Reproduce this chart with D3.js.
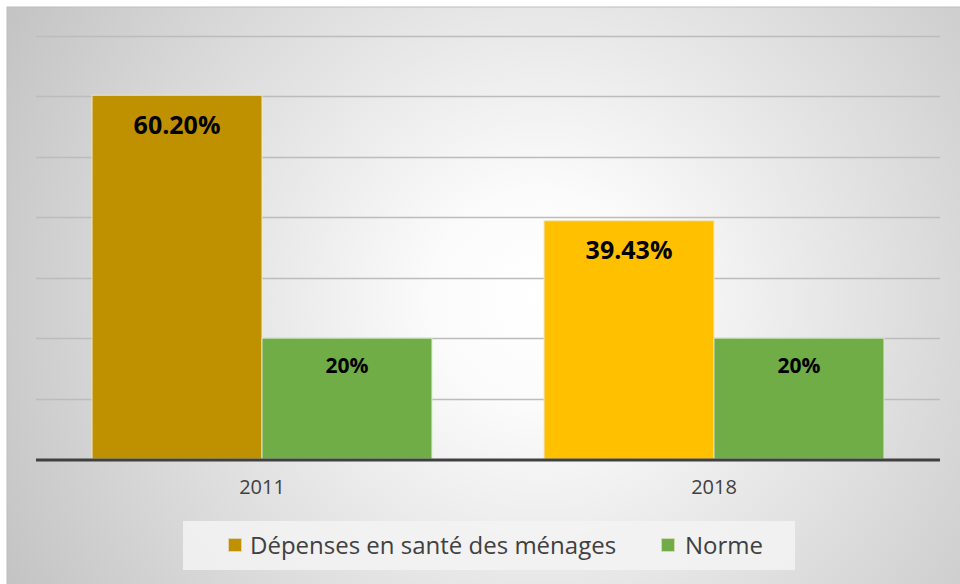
<!DOCTYPE html>
<html><head><meta charset="utf-8">
<script src="https://cdn.jsdelivr.net/npm/d3@7"></script>
<style>body{margin:0;background:#fff}svg{display:block}</style>
</head><body>
<svg id="c" width="960" height="584"></svg>
<script>
const categories = ["2011", "2018"];
const seriesNames = ["Dépenses en santé des ménages", "Norme"];
const depenses = [60.20, 39.43];
const norme = [20, 20];
const depensesLabels = ["60.20%", "39.43%"];
const normeLabels = ["20%", "20%"];
const yTicks = [0, 10, 20, 30, 40, 50, 60, 70];

const FONT = "Open Sans, Noto Sans, sans-serif";
const svg = d3.select("#c");
const defs = svg.append("defs");
const rg = defs.append("radialGradient").attr("id","bg")
  .attr("gradientUnits","userSpaceOnUse").attr("cx",540).attr("cy",300).attr("r",600);
rg.append("stop").attr("offset","0").attr("stop-color","#ffffff");
rg.append("stop").attr("offset","0.18").attr("stop-color","#fbfbfb");
rg.append("stop").attr("offset","1").attr("stop-color","#c4c4c4");

svg.append("rect").attr("x",7).attr("y",7).attr("width",960).attr("height",590)
  .attr("fill","url(#bg)").attr("stroke","#bdbdbd").attr("stroke-width",1);

const x0 = d3.scaleBand().domain(categories).range([36,940]).paddingInner(0.248).paddingOuter(0.124);
const x1 = d3.scaleBand().domain([0,1]).range([0,x0.bandwidth()]);
const y = d3.scaleLinear().domain([0,70]).range([459,36]);

// gridlines
svg.append("g").selectAll("line").data(yTicks.filter(t=>t>0)).join("line")
  .attr("x1",36).attr("x2",940)
  .attr("y1",d=>Math.round(y(d))+0.5).attr("y2",d=>Math.round(y(d))+0.5)
  .attr("stroke","#bcbcbc").attr("stroke-width",1.5);

const colorsDep = ["#BF9000", "#FFC000"];
const colorNorme = "#70AD47";

const g = svg.append("g");
categories.forEach((c,i)=>{
  const bx = x0(c);
  g.append("rect").attr("x",bx+x1(0)).attr("y",y(depenses[i]))
    .attr("width",x1.bandwidth()).attr("height",y(0)-y(depenses[i]))
    .attr("fill",colorsDep[i]).attr("stroke","#f2e6c0").attr("stroke-width",1);
  g.append("rect").attr("x",bx+x1(1)).attr("y",y(norme[i]))
    .attr("width",x1.bandwidth()).attr("height",y(0)-y(norme[i]))
    .attr("fill",colorNorme).attr("stroke","#d8e6cf").attr("stroke-width",1);
  g.append("text").attr("x",bx+x1(0)+x1.bandwidth()/2).attr("y",y(depenses[i])+38.5)
    .attr("text-anchor","middle").attr("font-family",FONT)
    .attr("font-weight","bold").attr("font-size",25).attr("fill","#000").text(depensesLabels[i]);
  g.append("text").attr("x",bx+x1(1)+x1.bandwidth()/2).attr("y",y(norme[i])+35)
    .attr("text-anchor","middle").attr("font-family",FONT)
    .attr("font-weight","bold").attr("font-size",21).attr("fill","#000").text(normeLabels[i]);
});

// baseline
svg.append("line").attr("x1",36).attr("x2",940).attr("y1",y(0)+1).attr("y2",y(0)+1)
  .attr("stroke","#404040").attr("stroke-width",3);

// x axis labels
const xa = svg.append("g").attr("transform","translate(0,"+(y(0)+2)+")")
  .call(d3.axisBottom(x0).tickSize(0).tickPadding(19));
xa.select(".domain").remove();
xa.selectAll("text").attr("font-family",FONT)
  .attr("font-size",20).attr("fill","#404040");

// legend
svg.append("rect").attr("x",183).attr("y",521).attr("width",612).attr("height",49)
  .attr("fill","#f3f3f3").attr("opacity",0.85);
const leg = [{n:seriesNames[0],c:colorsDep[0],x:228,tx:250},{n:seriesNames[1],c:colorNorme,x:661,tx:685}];
leg.forEach(l=>{
  svg.append("rect").attr("x",l.x+0.5).attr("y",538.5).attr("width",13).attr("height",13)
    .attr("fill",l.c).attr("stroke","#e0d8b8").attr("stroke-width",0.8);
  svg.append("text").attr("x",l.tx).attr("y",554).attr("font-family",FONT)
    .attr("font-size",24).attr("fill","#404040").text(l.n);
});
</script>
</body></html>
